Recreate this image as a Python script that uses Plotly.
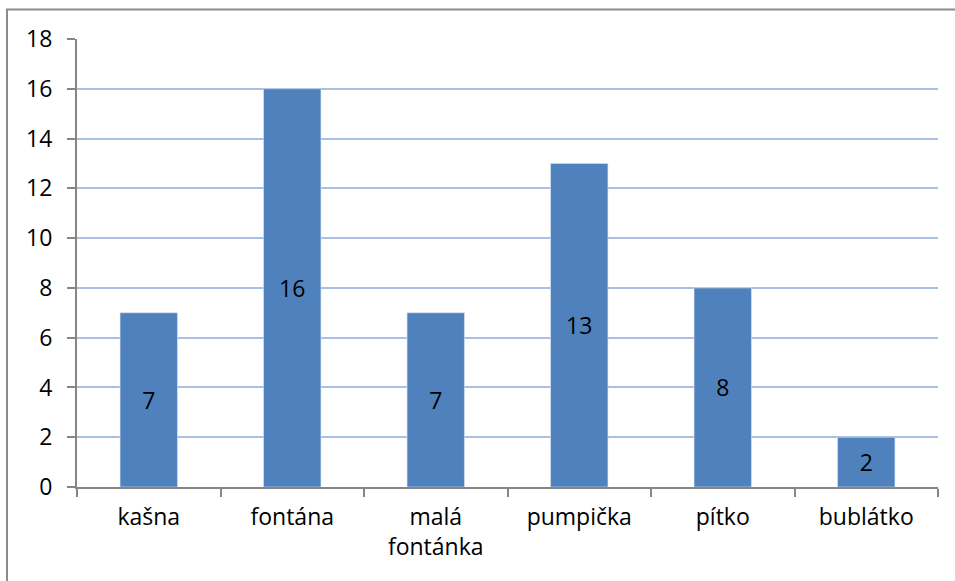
import plotly.graph_objects as go

# Types of public drinking fountains and how often each was counted
categories = ["kašna", "fontána", "malá<br>fontánka", "pumpička", "pítko", "bublátko"]
counts = [7, 16, 7, 13, 8, 2]
y_ticks = list(range(0, 19, 2))

FONT = "'Open Sans', Lato, sans-serif"
FONT_SIZE = 23
BAR_BLUE = "#4F81BD"
GRID_BLUE = "#A9C0E2"
AXIS_GREY = "#868686"

fig = go.Figure(
    go.Bar(
        x=categories,
        y=counts,
        width=0.4,
        marker=dict(color=BAR_BLUE, line=dict(color="#DCE6F2", width=0.6)),
        text=[str(v) for v in counts],
        textposition="inside",
        insidetextanchor="middle",
        textfont=dict(family=FONT, size=FONT_SIZE, color="black"),
        cliponaxis=False,
    )
)

fig.update_layout(
    width=955,
    height=581,
    margin=dict(l=77, r=17, t=39, b=94),
    paper_bgcolor="white",
    plot_bgcolor="white",
    showlegend=False,
    font=dict(family=FONT, size=FONT_SIZE, color="black"),
    bargap=0.6,
    xaxis=dict(
        type="category",
        range=[-0.5, 5.5],
        showline=True,
        linecolor=AXIS_GREY,
        linewidth=2,
        ticks="outside",
        tickson="boundaries",
        ticklen=8,
        tickwidth=2,
        tickcolor=AXIS_GREY,
        showgrid=False,
        ticklabelstandoff=8,
        tickfont=dict(family=FONT, size=FONT_SIZE, color="black"),
    ),
    yaxis=dict(
        range=[0, 18],
        tickvals=y_ticks,
        showline=True,
        linecolor=AXIS_GREY,
        linewidth=2,
        ticks="outside",
        ticklen=8,
        tickwidth=2,
        tickcolor=AXIS_GREY,
        showgrid=True,
        gridcolor=GRID_BLUE,
        gridwidth=1.5,
        zeroline=False,
        ticklabelstandoff=10,
        tickfont=dict(family=FONT, size=FONT_SIZE, color="black"),
    ),
    shapes=[
        # outer chart-area frame
        dict(
            type="rect",
            xref="paper",
            yref="paper",
            x0=-70 / 861,
            x1=1.2,
            y0=-0.4,
            y1=1 + 29.5 / 448,
            line=dict(color="#8C8C8C", width=2),
            fillcolor="rgba(0,0,0,0)",
            layer="below",
        )
    ],
)

fig.write_html("out.html")
